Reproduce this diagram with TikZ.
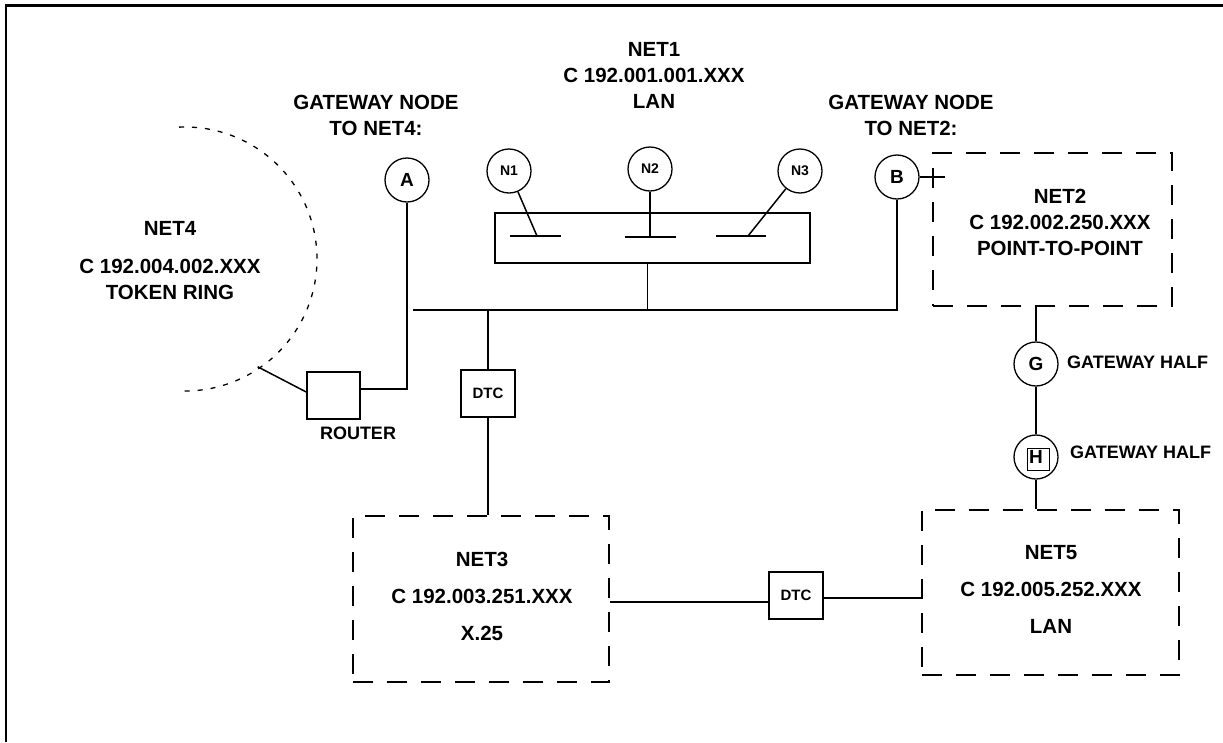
\documentclass[tikz,border=0pt]{standalone}
\usepackage{fontspec}
\setmainfont{Liberation Sans}
\usepackage{tikz}
\usetikzlibrary{calc,positioning}
\tikzset{>=latex}
\tikzset{
  netlbl/.style={font=\fontsize{20.5}{26}\selectfont\bfseries, align=center, inner sep=0pt},
  halflbl/.style={font=\fontsize{18}{22}\selectfont\bfseries, inner sep=0pt},
  gwnode/.style={draw, circle, minimum size=44pt, inner sep=0pt, line width=1.3pt,
    font=\fontsize{19}{22}\selectfont\bfseries},
  stnnode/.style={gwnode, font=\fontsize{14}{16}\selectfont\bfseries},
  dtcbox/.style={draw, minimum width=54pt, minimum height=47pt, inner sep=0pt,
    line width=1.5pt, font=\fontsize{15}{18}\selectfont\bfseries},
  netbox/.style={draw, dash pattern=on 20pt off 14pt, line width=1.5pt, inner sep=0pt},
  link/.style={line width=1.5pt},
  ringline/.style={line width=1.3pt, dash pattern=on 5pt off 8pt}
}

\begin{document}
\begin{tikzpicture}[x=1pt,y=-1pt]
  \useasboundingbox (0,0) rectangle (1223,742);
  % frame
  \draw[line width=2.8pt] (6,742) -- (6,5.3) -- (1223,5.3);

  % NET1 lan
  \node[netlbl] at (654,75) (net1lbl) {NET1\\C 192.001.001.XXX\\LAN};
  \node[draw, line width=1.5pt, minimum width=315pt, minimum height=50pt] at (652.5,238) (lanbox) {};
  \node[stnnode] at (509,171) (N1) {N1};
  \node[stnnode] at (650,169) (N2) {N2};
  \node[stnnode] at (800,171) (N3) {N3};
  \coordinate (s1t) at (537,236);
  \coordinate (s2t) at (650,237);
  \coordinate (s3t) at (748,236);
  \draw[link] (510,236) -- (561,236);
  \draw[link] (625,237) -- (676,237);
  \draw[link] (716,236) -- (766,236);
  \draw[link] (N1) -- (s1t);
  \draw[link] (N2) -- (s2t);
  \draw[link] (N3) -- (s3t);

  % gateways to net4 and net2
  \node[netlbl] at (376,115.5) (gw4lbl) {GATEWAY NODE\\TO NET4:};
  \node[netlbl] at (911,115.5) (gw2lbl) {GATEWAY NODE\\TO NET2:};
  \node[gwnode] at (407,180) (A) {A};
  \node[gwnode] at (897,177) (B) {B};

  % bus
  \coordinate (busL) at (413,310);
  \draw[link] (busL) -| (B.south);
  \draw[link] ([xshift=-5pt]lanbox.south) -- ([xshift=-5pt]lanbox.south |- busL);

  % NET4 token ring
  \node[netlbl] at (170,261) (net4lbl) {NET4\\[12pt]C 192.004.002.XXX\\TOKEN RING};
  \coordinate (ringc) at (185,259);
  \coordinate (ringtap) at ($(ringc)+(-56:130pt)$);
  \draw[ringline] ($(ringc)+(92.6:132pt)$) arc[start angle=92.6, end angle=-91.3, radius=132pt];
  \node[draw, line width=1.5pt, minimum width=53pt, minimum height=47pt] at (333.5,395.5) (rtr) {};
  \node[halflbl] at (358,433) (rtrlbl) {ROUTER};
  \draw[link] (A.south) |- ([yshift=6.5pt]rtr.east);
  \draw[link] ([yshift=3.5pt]rtr.west) -- (ringtap);

  % NET3 x.25
  \node[dtcbox] at (488,393.5) (dtc1) {DTC};
  \node[netbox, minimum width=256pt, minimum height=166pt] at (481,599) (net3) {};
  \node[netlbl] at (482,596) (net3lbl) {NET3\\[11pt]C 192.003.251.XXX\\[11pt]X.25};
  \draw[link] (dtc1.north) -- (dtc1.north |- busL);
  \draw[link] (dtc1.south) -- (dtc1.south |- net3.north);

  % NET2 point-to-point
  \node[netbox, minimum width=239pt, minimum height=153pt] at (1052.5,229.5) (net2) {};
  \node[netlbl] at (1060,222) (net2lbl) {NET2\\C 192.002.250.XXX\\POINT-TO-POINT};
  \coordinate (b2tap) at (945,177);
  \draw[link] (B.east) -- (b2tap);

  % gateway halves
  \node[gwnode] at (1036,364) (G) {G};
  \node[gwnode] at (1036,457) (H) {H};
  \node[draw, line width=1pt, minimum size=22pt, inner sep=0pt] at (1038,459) (hbox) {};
  \node[halflbl, anchor=west] at (1067,362) (glbl) {GATEWAY HALF};
  \node[halflbl, anchor=west] at (1070,452) (hlbl) {GATEWAY HALF};

  % NET5 lan
  \node[netbox, minimum width=257pt, minimum height=165pt] at (1050.5,592.5) (net5) {};
  \node[netlbl] at (1051,589) (net5lbl) {NET5\\[11pt]C 192.005.252.XXX\\[11pt]LAN};
  \draw[link] (G.north) -- (G.north |- net2.south);
  \draw[link] (G.south) -- (H.north);
  \draw[link] (H.south) -- (H.south |- net5.north);

  % net3 to net5
  \node[dtcbox] at (796,595.5) (dtc2) {DTC};
  \draw[link] ([yshift=-6.5pt]dtc2.west) -- ([yshift=-6.5pt]dtc2.west -| net3.east);
  \draw[link] ([yshift=-2.5pt]dtc2.east) -- ([yshift=-2.5pt]dtc2.east -| net5.west);
\end{tikzpicture}
\end{document}
